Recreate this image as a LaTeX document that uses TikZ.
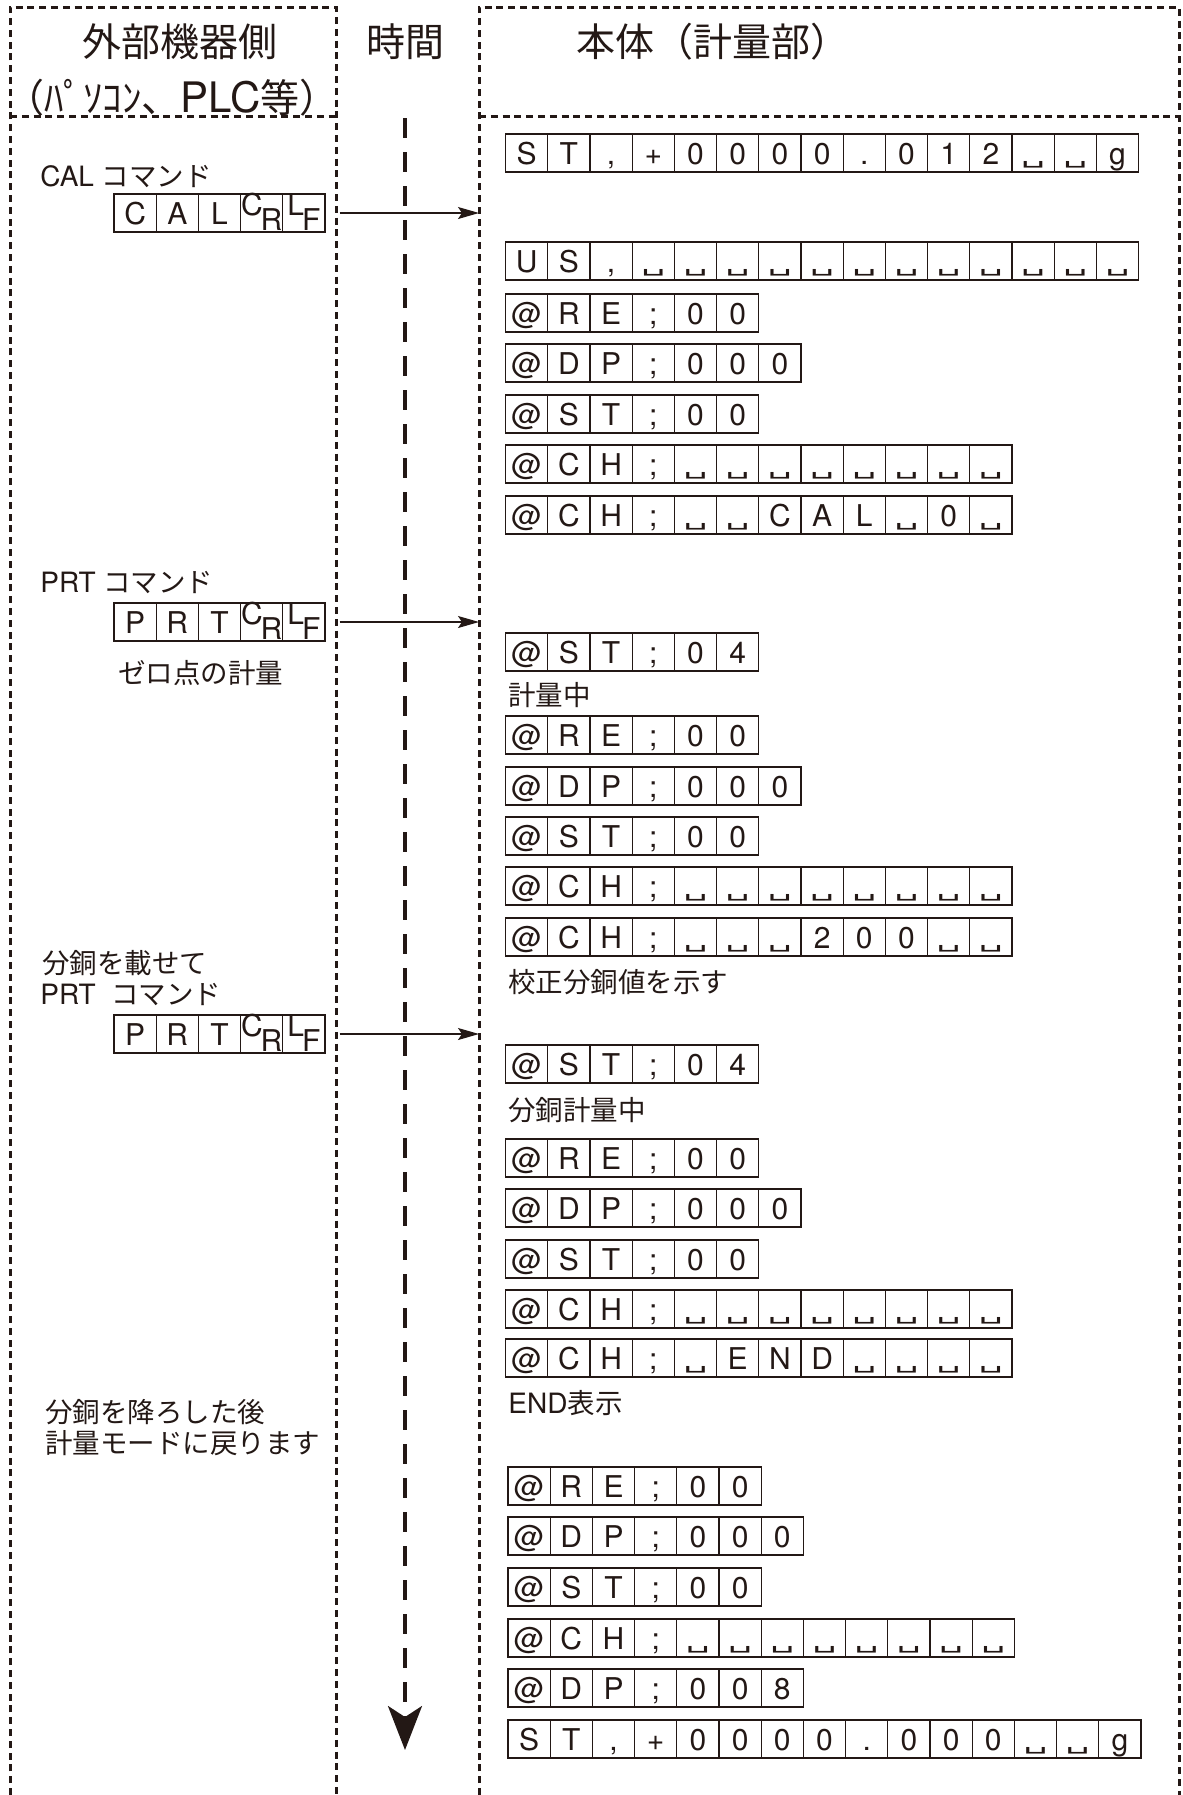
\documentclass[tikz,border=0pt]{standalone}
\usepackage{fontspec}
\setmainfont{TeX Gyre Heros}
\newfontfamily\jp{Noto Sans CJK JP}
\newfontfamily\dv{DejaVu Sans}
\usetikzlibrary{arrows.meta,calc}
\definecolor{ink}{RGB}{35,24,21}
\newcommand\vs{\raisebox{0.6pt}{\resizebox*{12pt}{3.3pt}{\dv ␣}}}
\newcommand\crc{\raisebox{4.5pt}{C}\kern-1pt\raisebox{-2.8pt}{R}}
\newcommand\lfc{\raisebox{4.5pt}{L}\kern-1pt\raisebox{-2.8pt}{F}}
\newcommand\jpl{\jp\fontsize{13.75pt}{16pt}\selectfont}
\newcommand\cellrow[4]{%
  \foreach \cc [count=\ii] in {#4}{%
    \node[cell] (#1-\ii) at ({#2+(\ii-0.5)*42.2},#3) {\cc};
  }}
\begin{document}
\begin{tikzpicture}[x=0.5pt,y=-0.5pt,
  cell/.style={draw=ink,line width=0.55pt,minimum width=21.1pt,minimum height=19pt,
    inner sep=0pt,text height=13pt,text depth=1.3pt,text=ink,
    font=\fontsize{15pt}{15pt}\selectfont},
  bord/.style={draw=ink,line width=1.5pt,dash pattern=on 3.5pt off 2.4pt},
  timeline/.style={draw=ink,line width=1.6pt,dash pattern=on 10pt off 7pt,
    -{Stealth[length=22pt,width=17pt,inset=5.5pt,fill=ink]}},
  msg/.style={draw=ink,line width=0.6pt,-{Stealth[length=10.5pt,width=6pt,inset=2pt,fill=ink]}},
  hdr/.style={inner sep=0pt,text=ink,font=\jp\fontsize{19.5pt}{24pt}\selectfont},
  lab/.style={anchor=west,inner sep=0pt,text=ink,font=\fontsize{14pt}{16pt}\selectfont},
  jlab/.style={anchor=west,inner sep=0pt,text=ink,font=\jpl},
]
\useasboundingbox (0,0) rectangle (1183,1795);
% column frames
\coordinate (lb0) at (10,1795);
\coordinate (lb1) at (10,7);
\coordinate (lb2) at (336,7);
\coordinate (lb3) at (336,1795);
\coordinate (rb0) at (479,1795);
\coordinate (rb1) at (479,7);
\coordinate (rb2) at (1179,7);
\coordinate (rb3) at (1179,1795);
\draw[bord] (lb0) -- (lb1) -- (lb2) -- (lb3);
\draw[bord] (10,116) -- (336,116);
\draw[bord] (rb0) -- (rb1) -- (rb2) -- (rb3);
\draw[bord] (479,116) -- (1179,116);
% headers
\node[hdr] (h1) at (180,42) {外部機器側};
\node[hdr] (h1b) at (172,98) {（ﾊﾟｿｺﾝ、{\rmfamily\fontsize{21pt}{24pt}\selectfont PLC}等）};
\node[hdr] (h2) at (405,42) {時間};
\node[hdr] (h3) at (713,42) {本体（計量部）};
% time axis
\coordinate (ttop) at (405,118);
\coordinate (tbot) at (405,1750);
\draw[timeline] (ttop) -- (tbot);
% left side
\node[lab] (calcmd) at (40,177) {CAL {\jpl コマンド}};
\cellrow{cal}{114}{213}{C,A,L,\crc,\lfc}
\node[lab] (prtcmd) at (40,583) {PRT {\jpl コマンド}};
\cellrow{prta}{114}{622}{P,R,T,\crc,\lfc}
\node[jlab] (zero) at (118,673) {ゼロ点の計量};
\node[jlab] (nose) at (42,963) {分銅を載せて};
\node[lab] (prtcmd2) at (40,995) {PRT\ \ {\jpl コマンド}};
\cellrow{prtb}{114}{1034}{P,R,T,\crc,\lfc}
\node[jlab] (orosu) at (45,1412) {分銅を降ろした後};
\node[jlab] (modoru) at (45,1443) {計量モードに戻ります};
% messages
\draw[msg] ($(cal-5.east)+(14,0)$) -- (cal-5.east -| rb1);
\draw[msg] ($(prta-5.east)+(14,0)$) -- (prta-5.east -| rb1);
\draw[msg] ($(prtb-5.east)+(14,0)$) -- (prtb-5.east -| rb1);
% right side
\cellrow{r1}{505.6}{153}{S,T,{,},+,0,0,0,0,.,0,1,2,\vs,\vs,g}
\cellrow{r2}{505.6}{261}{U,S,{,},\vs,\vs,\vs,\vs,\vs,\vs,\vs,\vs,\vs,\vs,\vs,\vs}
\cellrow{r3}{505.6}{313}{@,R,E,;,0,0}
\cellrow{r4}{505.6}{363}{@,D,P,;,0,0,0}
\cellrow{r5}{505.6}{414}{@,S,T,;,0,0}
\cellrow{r6}{505.6}{464}{@,C,H,;,\vs,\vs,\vs,\vs,\vs,\vs,\vs,\vs}
\cellrow{r7}{505.6}{515}{@,C,H,;,\vs,\vs,C,A,L,\vs,0,\vs}
\cellrow{r8}{505.6}{652}{@,S,T,;,0,4}
\node[jlab] (keiryo) at (508,695) {計量中};
\cellrow{r9}{505.6}{735}{@,R,E,;,0,0}
\cellrow{r10}{505.6}{786}{@,D,P,;,0,0,0}
\cellrow{r11}{505.6}{836}{@,S,T,;,0,0}
\cellrow{r12}{505.6}{886}{@,C,H,;,\vs,\vs,\vs,\vs,\vs,\vs,\vs,\vs}
\cellrow{r13}{505.6}{937}{@,C,H,;,\vs,\vs,\vs,2,0,0,\vs,\vs}
\node[jlab] (kosei) at (508,982) {校正分銅値を示す};
\cellrow{r14}{505.6}{1064}{@,S,T,;,0,4}
\node[jlab] (bundo) at (508,1110) {分銅計量中};
\cellrow{r15}{505.6}{1158}{@,R,E,;,0,0}
\cellrow{r16}{505.6}{1208}{@,D,P,;,0,0,0}
\cellrow{r17}{505.6}{1259}{@,S,T,;,0,0}
\cellrow{r18}{505.6}{1309}{@,C,H,;,\vs,\vs,\vs,\vs,\vs,\vs,\vs,\vs}
\cellrow{r19}{505.6}{1358}{@,C,H,;,\vs,E,N,D,\vs,\vs,\vs,\vs}
\node[lab] (endhyo) at (508,1403) {END{\jpl 表示}};
\cellrow{r20}{508}{1486}{@,R,E,;,0,0}
\cellrow{r21}{508}{1536}{@,D,P,;,0,0,0}
\cellrow{r22}{508}{1587}{@,S,T,;,0,0}
\cellrow{r23}{508}{1638}{@,C,H,;,\vs,\vs,\vs,\vs,\vs,\vs,\vs,\vs}
\cellrow{r24}{508}{1688}{@,D,P,;,0,0,8}
\cellrow{r25}{508}{1739}{S,T,{,},+,0,0,0,0,.,0,0,0,\vs,\vs,g}
\end{tikzpicture}
\end{document}
